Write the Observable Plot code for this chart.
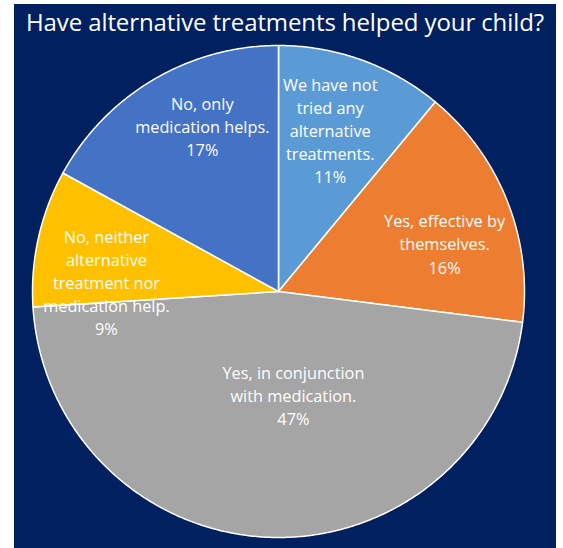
<!DOCTYPE html>
<html>
<head>
<meta charset="utf-8">
<script src="https://cdn.jsdelivr.net/npm/d3@7"></script>
<script src="https://cdn.jsdelivr.net/npm/@observablehq/plot@0.6"></script>
<style>
  html, body { margin: 0; padding: 0; background: #ffffff; }
  #panel {
    position: absolute; left: 14px; top: 4px; width: 542px; height: 544px;
    background: #002060; overflow: hidden;
  }
  #title {
    height: 36px; line-height: 36px; text-align: center; color: #ffffff;
    font-family: "Open Sans", sans-serif; font-size: 24px; white-space: nowrap;
    letter-spacing: -0.1px;
  }
  #chart svg { display: block; }
</style>
</head>
<body>
<div id="panel">
  <div id="title">Have alternative treatments helped your child?</div>
  <div id="chart"></div>
</div>
<script>
// ---- data ----
const categories = [
  "We have not tried any alternative treatments.",
  "Yes, effective by themselves.",
  "Yes, in conjunction with medication.",
  "No, neither alternative treatment nor medication help.",
  "No, only medication helps."
];
const labelText = [
  "We have not\ntried any\nalternative\ntreatments.",
  "Yes, effective by\nthemselves.",
  "Yes, in conjunction\nwith medication.",
  "No, neither\nalternative\ntreatment nor\nmedication help.",
  "No, only\nmedication helps."
];
const values = [11, 16, 47, 9, 17];
const colors = ["#5B9BD5", "#ED7D31", "#A5A5A5", "#FFC000", "#4472C4"];

// ---- label layout (angle offset in degrees from slice middle, radius fraction) ----
const labelAngleOffset = [-1.8, 6.3, -9.8, -10.3, 5.5];
const labelRadius = [0.68, 0.70, 0.435, 0.70, 0.73];

// ---- geometry in data space (unit circle, angle clockwise from top) ----
const total = d3.sum(values);
let acc = 0;
const slices = values.map((v, i) => {
  const a0 = acc / total * 360;
  acc += v;
  const a1 = acc / total * 360;
  return {i, cat: categories[i], a0, a1, v};
});
const rad = d => d * Math.PI / 180;
const arcPts = [];
for (const s of slices) {
  arcPts.push({cat: s.cat, x: 0, y: 0});
  const n = Math.max(2, Math.ceil((s.a1 - s.a0) / 0.5));
  for (let k = 0; k <= n; k++) {
    const a = s.a0 + (s.a1 - s.a0) * k / n;
    arcPts.push({cat: s.cat, x: Math.sin(rad(a)), y: Math.cos(rad(a))});
  }
}
const labels = slices.map(s => {
  const a = (s.a0 + s.a1) / 2 + labelAngleOffset[s.i];
  const r = labelRadius[s.i];
  return {
    cat: s.cat,
    x: r * Math.sin(rad(a)),
    y: r * Math.cos(rad(a)),
    text: labelText[s.i] + "\n" + s.v + "%"
  };
});

const W = 542, H = 508, R = 246, CX = 264, CY = 251;
const chart = Plot.plot({
  width: W,
  height: H,
  marginLeft: CX - R,
  marginRight: W - (CX + R),
  marginTop: CY - R,
  marginBottom: H - (CY + R),
  style: {background: "#002060", fontFamily: "'Open Sans', sans-serif"},
  x: {domain: [-1, 1], axis: null},
  y: {domain: [-1, 1], axis: null},
  color: {domain: categories, range: colors},
  marks: [
    Plot.line(arcPts, {
      x: "x", y: "y", z: "cat", fill: "cat",
      stroke: "#ffffff", strokeWidth: 1.5, strokeLinejoin: "round",
      curve: "linear-closed"
    }),
    Plot.text(labels, {
      x: "x", y: "y", text: "text", dy: -3,
      fill: "#ffffff", fontSize: 16.3, lineHeight: 1.42
    })
  ]
});
document.getElementById("chart").appendChild(chart);
</script>
</body>
</html>
